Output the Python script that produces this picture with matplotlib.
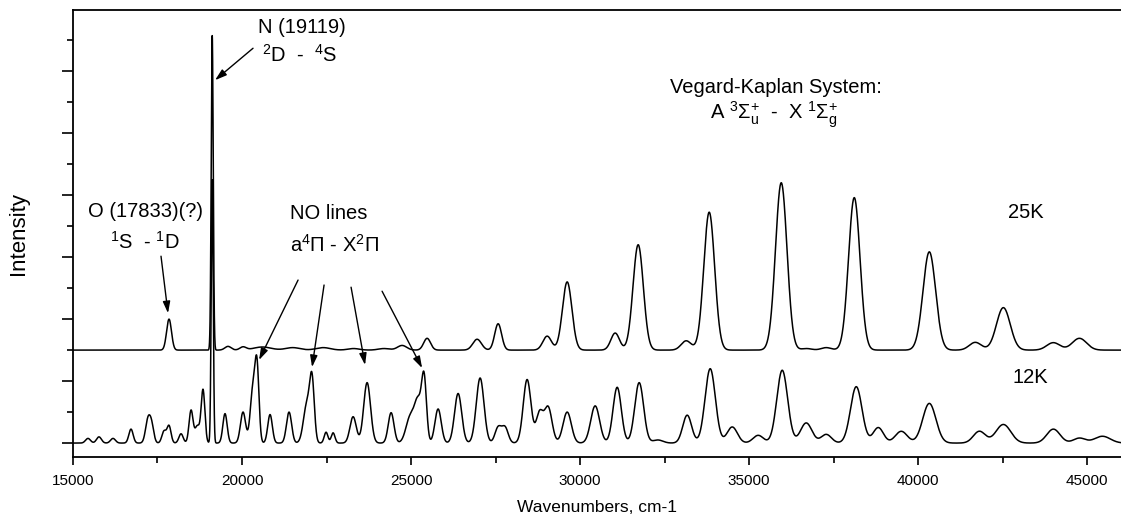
import numpy as np
import matplotlib
matplotlib.use("Agg")
import matplotlib.pyplot as plt
from matplotlib.ticker import MultipleLocator

plt.rcParams['font.family'] = ['Liberation Sans', 'DejaVu Sans']
plt.rcParams['mathtext.fontset'] = 'custom'
plt.rcParams['mathtext.rm'] = 'Liberation Sans'
plt.rcParams['mathtext.it'] = 'Liberation Sans'
plt.rcParams['mathtext.sf'] = 'Liberation Sans'

# --------------------------------------------
# line lists (cm-1, height, FWHM)
# --------------------------------------------

# 12K spectrum
k12_pos = [15444, 15769, 16184, 16716, 17219, 17330, 17693, 17841, 18196, 18492,
           18680, 18847, 19119, 19497, 20030, 20320, 20444, 20829, 21391, 21920,
           22072, 22486, 22694, 23286, 23700, 24410, 24980, 25210, 25386, 25800,
           26392, 27043, 27576, 27780, 28433, 28800, 29055, 29618, 30446, 31097,
           31748, 32300, 33168, 33849, 34500, 35269, 35979, 36689, 37281, 38169,
           38820, 39500, 40330, 41810, 42520, 44000, 44770, 45450]
k12_height = [0.15, 0.2, 0.15, 0.45, 0.75, 0.5, 0.38, 0.55, 0.3, 1.05,
              0.55, 1.7, 8.5, 0.95, 1.0, 1.7, 2.3, 0.92, 1.0, 1.25,
              1.85, 0.35, 0.33, 0.85, 1.95, 0.98, 0.85, 1.25, 2.0, 1.1,
              1.6, 2.1, 0.5, 0.5, 2.05, 0.95, 1.15, 1.0, 1.2, 1.8,
              1.95, 0.1, 0.9, 2.4, 0.52, 0.25, 2.35, 0.65, 0.28, 1.82,
              0.5, 0.38, 1.28, 0.38, 0.6, 0.45, 0.16, 0.22]
k12_fwhm = [170, 170, 170, 150, 170, 150, 150, 140, 150, 140,
            170, 130, 70, 150, 180, 180, 140, 160, 180, 240,
            160, 130, 130, 220, 240, 200, 300, 240, 170, 220,
            250, 270, 220, 220, 270, 240, 270, 290, 310, 290,
            310, 350, 310, 360, 360, 360, 380, 400, 360, 400,
            360, 420, 460, 420, 520, 460, 420, 550]

# 25K spectrum (heights above its own baseline)
k25_pos = [17841, 19119, 19586, 20030, 20600, 21500, 22400, 23300, 24200, 24735,
           25475, 26954, 27576, 29026, 29618, 31038, 31718, 33139, 33819, 35950,
           36700, 37281, 38110, 40330, 41690, 42520, 43998, 44770]
k25_height = [1.0, 10.15, 0.12, 0.1, 0.1, 0.08, 0.08, 0.05, 0.05, 0.15,
              0.38, 0.35, 0.85, 0.45, 2.2, 0.55, 3.4, 0.3, 4.45, 5.4,
              0.05, 0.08, 4.92, 3.17, 0.25, 1.37, 0.24, 0.38]
k25_fwhm = [170, 70, 220, 220, 600, 500, 500, 400, 400, 320,
            240, 300, 240, 300, 330, 300, 360, 350, 380, 400,
            350, 350, 400, 440, 420, 480, 460, 500]

k25_offset = 3.0


def spectrum(x, pos, height, fwhm):
    y = np.zeros_like(x)
    for c, h, w in zip(pos, height, fwhm):
        y += h * np.exp(-4 * np.log(2) * (x - c) ** 2 / w ** 2)
    return y


x = np.linspace(15000, 46000, 8000)
y12 = spectrum(x, k12_pos, k12_height, k12_fwhm)
y25 = spectrum(x, k25_pos, k25_height, k25_fwhm) + k25_offset

# --------------------------------------------
# plot
# --------------------------------------------
fig = plt.figure(figsize=(11.21, 5.27), dpi=100)
ax = fig.add_axes([0.0651, 0.1328, 0.9349, 0.848])

ax.plot(x, y25, color='black', lw=1.1)
ax.plot(x, y12, color='black', lw=1.1)

ax.set_xlim(15000, 46000)
ax.set_ylim(-0.45, 13.97)
ax.xaxis.set_major_locator(MultipleLocator(5000))
ax.xaxis.set_minor_locator(MultipleLocator(2500))
ax.yaxis.set_major_locator(MultipleLocator(2))
ax.yaxis.set_minor_locator(MultipleLocator(1))
ax.set_yticklabels([])
ax.tick_params(axis='x', which='major', length=6, width=1.2, labelsize=11, pad=6)
ax.tick_params(axis='x', which='minor', length=4, width=1.2)
ax.tick_params(axis='y', which='major', length=8, width=1.2)
ax.tick_params(axis='y', which='minor', length=4, width=1.2)
for s in ['left', 'bottom', 'top']:
    ax.spines[s].set_linewidth(1.3)
ax.spines['right'].set_visible(False)

ax.set_xlabel("Wavenumbers, cm-1", fontsize=12.5, labelpad=9)
ax.set_ylabel("Intensity", fontsize=16, labelpad=20)

fs = 14.5
arrow = dict(arrowstyle='-|>,head_length=0.7,head_width=0.22', color='black',
             lw=1.0, shrinkA=0, shrinkB=0)

# N line
ax.text(20474, 13.42, "N (19119)", fontsize=fs, va='center')
ax.text(20592, 12.52, r"$^{2}$D  -  $^{4}$S", fontsize=fs, va='center')
ax.annotate("", xy=(19202, 11.71), xytext=(20326, 12.74), arrowprops=arrow)

# Vegard-Kaplan
ax.text(32665, 11.48, "Vegard-Kaplan System:", fontsize=fs, va='center')
ax.text(33849, 10.58, r"A $^{3}\Sigma_{u}^{+}$  -  X $^{1}\Sigma_{g}^{+}$",
        fontsize=fs, va='center')

# O line
ax.text(15444, 7.48, "O (17833)(?)", fontsize=fs, va='center')
ax.text(16095, 6.48, r"$^{1}$S  - $^{1}$D", fontsize=fs, va='center')
ax.annotate("", xy=(17811, 4.19), xytext=(17604, 6.03), arrowprops=arrow)

# NO lines
ax.text(21421, 7.42, "NO lines", fontsize=fs, va='center')
ax.text(21421, 6.39, r"a$^{4}\Pi$ - X$^{2}\Pi$", fontsize=fs, va='center')
no_tails = [(21658, 5.26), (22427, 5.10), (23226, 5.03), (24143, 4.90)]
no_heads = [(20504, 2.68), (22072, 2.45), (23640, 2.52), (25327, 2.42)]
for t, h in zip(no_tails, no_heads):
    ax.annotate("", xy=h, xytext=t, arrowprops=arrow)

ax.text(42667, 7.45, "25K", fontsize=fs, va='center')
ax.text(42785, 2.10, "12K", fontsize=fs, va='center')

fig.savefig("out.png", dpi=100)
